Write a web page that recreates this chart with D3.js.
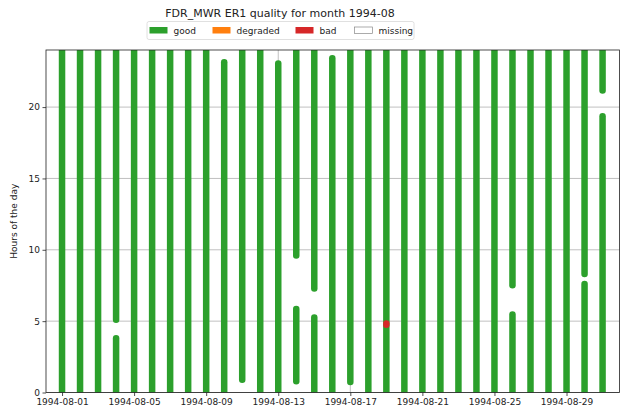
<!DOCTYPE html>
<html>
<head>
<meta charset="utf-8">
<script src="https://cdn.jsdelivr.net/npm/d3@7"></script>
<style>
  body { margin: 0; background: #fff; }
  svg { display: block; font-family: "DejaVu Sans", sans-serif; }
</style>
</head>
<body>
<script>
var width = 621, height = 419;

// day of month (August 1994)
var days = [1, 2, 3, 4, 5, 6, 7, 8, 9, 10, 11, 12, 13, 14, 15, 16,
            17, 18, 19, 20, 21, 22, 23, 24, 25, 26, 27, 28, 29, 30, 31];

// [day, start hour, end hour]
var goodSegments = [
    [1, 0, 24], [2, 0, 24], [3, 0, 24],
    [4, 0, 3.8], [4, 5.1, 24],
    [5, 0, 24], [6, 0, 24], [7, 0, 24], [8, 0, 24], [9, 0, 24],
    [10, 0, 23.15],
    [11, 0.9, 24],
    [12, 0, 24],
    [13, 0, 23.05],
    [14, 0.78, 5.85], [14, 9.6, 24],
    [15, 0, 5.26], [15, 7.28, 24],
    [16, 0, 23.43],
    [17, 0.73, 24],
    [18, 0, 24], [19, 0, 24], [20, 0, 24], [21, 0, 24], [22, 0, 24],
    [23, 0, 24], [24, 0, 24], [25, 0, 24],
    [26, 0, 5.47], [26, 7.51, 24],
    [27, 0, 24], [28, 0, 24], [29, 0, 24],
    [30, 0, 7.6], [30, 8.3, 24],
    [31, 0, 19.36], [31, 21.17, 24]
];
var degradedSegments = [];
var badSegments = [[19, 4.74, 4.84]];

var xTickDays = [1, 5, 9, 13, 17, 21, 25, 29];
var yTicks = [0, 5, 10, 15, 20];

var legendItems = ["good", "degraded", "bad", "missing"];
var colors = { good: "#2ca02c", degraded: "#ff7f0e", bad: "#d62728", missing: "#ffffff" };

var DAY_MS = 24 * 3600 * 1000;
function dayDate(d) {
    return new Date(Date.UTC(1994, 7, 1) + (d - 1) * DAY_MS);
}

var svg = d3.select("body").append("svg")
    .attr("width", width)
    .attr("height", height);

var plotLeft = 46, plotRight = 619.5, plotTop = 50, plotBottom = 392.5;

var x = d3.scaleUtc()
    .domain([dayDate(0.11), dayDate(31.94)])
    .range([plotLeft, plotRight]);

var y = d3.scaleLinear()
    .domain([0, 24])
    .range([plotBottom, plotTop]);

svg.append("defs").append("clipPath")
    .attr("id", "plot-clip")
    .append("rect")
    .attr("x", plotLeft).attr("y", plotTop)
    .attr("width", plotRight - plotLeft).attr("height", plotBottom - plotTop);

// grid
var grid = svg.append("g");
grid.selectAll("line.h")
    .data(yTicks)
    .enter().append("line")
    .attr("x1", plotLeft).attr("x2", plotRight)
    .attr("y1", function (d) { return y(d); })
    .attr("y2", function (d) { return y(d); })
    .attr("stroke", "#b0b0b0")
    .attr("stroke-width", 0.8);
grid.selectAll("line.v")
    .data(xTickDays)
    .enter().append("line")
    .attr("x1", function (d) { return x(dayDate(d)); })
    .attr("x2", function (d) { return x(dayDate(d)); })
    .attr("y1", plotTop).attr("y2", plotBottom)
    .attr("stroke", "#b0b0b0")
    .attr("stroke-width", 0.8);

// segments
var marks = svg.append("g").attr("clip-path", "url(#plot-clip)");

function drawSegments(data, color) {
    marks.append("g")
        .selectAll("line")
        .data(data)
        .enter().append("line")
        .attr("x1", function (d) { return x(dayDate(d[0])); })
        .attr("x2", function (d) { return x(dayDate(d[0])); })
        .attr("y1", function (d) { return y(d[1]); })
        .attr("y2", function (d) { return y(d[2]); })
        .attr("stroke", color)
        .attr("stroke-width", 6.5)
        .attr("stroke-linecap", "round");
}
drawSegments(goodSegments, colors.good);
drawSegments(degradedSegments, colors.degraded);
drawSegments(badSegments, colors.bad);

// axes
var xAxis = d3.axisBottom(x)
    .tickValues(xTickDays.map(dayDate))
    .tickFormat(d3.utcFormat("%Y-%m-%d"))
    .tickSize(3.5)
    .tickSizeOuter(0);
var yAxis = d3.axisLeft(y)
    .tickValues(yTicks)
    .tickSize(3.5)
    .tickSizeOuter(0);

var gx = svg.append("g")
    .attr("transform", "translate(0," + plotBottom + ")")
    .call(xAxis);
var gy = svg.append("g")
    .attr("transform", "translate(" + plotLeft + ",0)")
    .call(yAxis);

[gx, gy].forEach(function (g) {
    g.select(".domain").remove();
    g.selectAll("line").attr("stroke", "#222").attr("stroke-width", 0.8);
    g.selectAll("text")
        .attr("fill", "#222")
        .style("font-size", "9px")
        .style("font-family", "DejaVu Sans, sans-serif");
});
gx.selectAll("text").attr("dy", "0.75em").attr("y", 6);
gy.selectAll("text").attr("x", -6);

// frame
svg.append("rect")
    .attr("x", plotLeft).attr("y", plotTop)
    .attr("width", plotRight - plotLeft).attr("height", plotBottom - plotTop)
    .attr("fill", "none")
    .attr("stroke", "#222")
    .attr("stroke-width", 0.8);

// y label
svg.append("text")
    .attr("transform", "translate(17," + ((plotTop + plotBottom) / 2) + ") rotate(-90)")
    .attr("text-anchor", "middle")
    .style("font-size", "9px")
    .attr("fill", "#222")
    .text("Hours of the day");

// title
svg.append("text")
    .attr("x", 280)
    .attr("y", 17)
    .attr("text-anchor", "middle")
    .style("font-size", "11px")
    .attr("fill", "#222")
    .text("FDR_MWR ER1 quality for month 1994-08");

// legend
var legend = svg.append("g");
legend.append("rect")
    .attr("x", 147).attr("y", 21.5)
    .attr("width", 267).attr("height", 18)
    .attr("rx", 2)
    .attr("fill", "#fff")
    .attr("stroke", "#d8d8d8")
    .attr("stroke-width", 0.8);

var legendX = [149, 212, 295, 354];
var item = legend.selectAll("g.item")
    .data(legendItems)
    .enter().append("g")
    .attr("transform", function (d, i) { return "translate(" + legendX[i] + ",0)"; });
item.append("rect")
    .attr("x", 0.5).attr("y", 27)
    .attr("width", 18).attr("height", 6.5)
    .attr("fill", function (d) { return colors[d]; })
    .attr("stroke", function (d) { return d === "missing" ? "#888" : "none"; })
    .attr("stroke-width", 0.7);
item.append("text")
    .attr("x", 24.5)
    .attr("y", 33.5)
    .style("font-size", "9px")
    .attr("fill", "#222")
    .text(function (d) { return d; });
</script>
</body>
</html>
